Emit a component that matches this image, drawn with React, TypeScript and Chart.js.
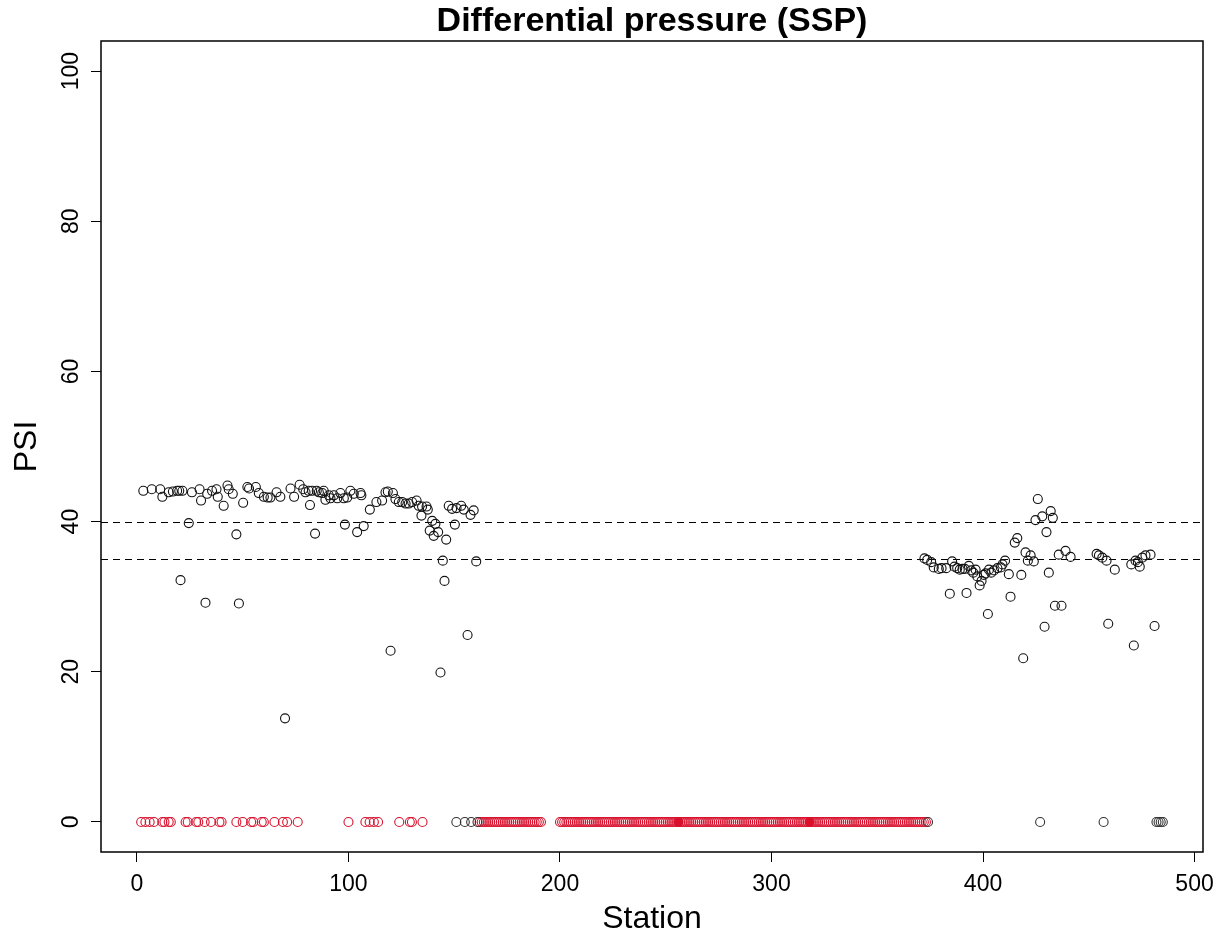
import { useEffect, useRef } from "react";
import { Chart, registerables } from "chart.js";

Chart.register(...registerables);

const chartTitle = "Differential pressure (SSP)";
const xAxisLabel = "Station";
const yAxisLabel = "PSI";
const xTickValues = [0, 100, 200, 300, 400, 500];
const yTickValues = [0, 20, 40, 60, 80, 100];
const thresholdLines = [40, 35];

// Stations with a non-zero differential pressure (black circles)
const pressureStations = [
  3, 7, 11, 12, 15, 17, 19, 20, 20.6, 21.5, 24.5, 26, 29.6, 30.3, 32.4, 33.2, 35.5, 37.6, 38.2, 41,
  42.8, 43.4, 45.3, 47, 48.2, 50.2, 52.2, 53, 56.2, 57.6, 60, 61.8, 63.1, 66, 67.8, 70,
  72.6, 74.3, 76.9, 78.6, 79.7, 81.2, 81.8, 82.8, 84.2, 85, 86, 87.6, 88.3, 89.1, 90.7, 91.5,
  93.1, 94.7, 96.2, 97.8, 98.3, 99.4, 100.9, 102.5, 104.1, 105.7, 106.1, 107.2, 110.1, 113.2,
  115.9, 117.5, 118.6, 119.9, 121, 122.2, 123.8, 125.4, 127, 128.5, 130.1, 132.2, 133.2, 134.5,
  134.8, 136.9, 137.5, 138.4, 139.6, 140.3, 141.1, 142.4, 143.5, 144.6, 145.4, 146.2, 147.4, 149,
  150.3, 151.1, 153.3, 154.5, 156.3, 157.7, 159.2, 160.4,
  372.3, 373.6, 375.5, 376.7, 379.1, 380.4, 382.6, 384.3, 385.4, 386.5, 387.8, 389, 390.3, 391.4,
  392.2, 393.3, 394.4, 395.4, 396.5, 397.3, 398.4, 399.3, 400.4, 401.2, 402.3, 402.8, 403.9,
  405.2, 406.8, 408.4, 409.2, 410.4, 412.2, 413, 415, 416.2, 418.1, 419, 420.1, 421.2, 422.5,
  424, 424.8, 425.9, 428, 429.1, 430, 431.1, 432, 433, 434, 435.8, 437.1, 439, 441.4, 453.7,
  454.8, 456.4, 458.4, 459.2, 462.3, 470.1, 471.3, 472.1, 473.2, 474.1, 475.3, 476.8, 479.2, 481.1,
];
const pressureValues = [
  44.1, 44.3, 44.3, 43.3, 43.9, 44.0, 44.1, 44.1, 32.2, 44.1, 39.8, 43.9, 44.3, 42.8, 29.2, 43.7, 44.1, 44.3, 43.3, 42.1,
  44.8, 44.3, 43.7, 38.3, 29.1, 42.5, 44.6, 44.4, 44.6, 43.8, 43.3, 43.2, 43.2, 43.9, 43.3, 13.8,
  44.4, 43.3, 44.9, 44.3, 43.9, 44.1, 42.2, 44.1, 38.4, 44.1, 43.9, 43.8, 44.1, 42.9, 43.5, 43.1,
  43.5, 43.1, 43.8, 43.1, 39.6, 43.2, 44.1, 43.7, 38.6, 43.8, 43.5, 39.4, 41.6, 42.6,
  42.8, 43.9, 44.0, 22.8, 43.8, 43.0, 42.6, 42.6, 42.4, 42.4, 42.6, 42.8, 42.1, 40.8,
  42.0, 42.0, 41.6, 38.8, 40.1, 38.1, 39.7, 38.6, 19.9, 34.8, 32.1, 37.6, 42.1, 41.7,
  39.6, 41.8, 42.1, 41.6, 24.9, 40.9, 41.5, 34.7,
  35.1, 34.9, 34.6, 33.9, 33.7, 33.8, 33.8, 30.4, 34.7, 34.0, 33.8, 33.6, 33.7, 33.7,
  30.5, 34.1, 33.5, 33.2, 33.6, 32.7, 31.5, 32.1, 32.9, 33.1, 27.7, 33.6, 33.2,
  33.5, 33.8, 33.9, 34.3, 34.8, 33.0, 30.0, 37.2, 37.8, 32.9, 21.8, 35.9, 34.8, 35.5,
  34.7, 40.2, 43.0, 40.7, 26.0, 38.6, 33.2, 41.4, 40.5, 28.8, 35.6, 28.8, 36.1, 35.3, 35.7,
  35.5, 35.2, 34.8, 26.4, 33.6, 34.3, 23.5, 34.8, 34.6, 34.0, 35.2, 35.5, 35.6, 26.1,
];

// Stations reading zero, highlighted in red
const redZeroStations = [
  2, 4, 6, 8, 12, 13, 15, 16, 23, 24, 28, 29, 32, 35, 39, 40, 47, 50, 54, 55, 59, 60, 65, 69, 71, 76,
  100, 108, 110, 112, 114, 124, 129, 130, 135,
  162, 163, 164, 165, 166, 167, 168, 169, 170, 171, 172, 173, 174, 175, 176, 177, 178, 179, 180, 181,
  182, 183, 184, 185, 186, 187, 188, 189, 190, 191,
  200, 201, 202, 203, 204, 205, 206, 207, 208, 209, 210, 211, 212, 213, 214, 215, 216, 217, 218, 219,
  220, 221, 222, 223, 224, 225, 226, 227, 228, 229, 230, 231, 232, 233, 234, 235, 236, 237, 238, 239,
  240, 241, 242, 243, 244, 245, 246, 247, 248, 249, 250, 251, 252, 253, 254, 255, 256, 257, 258, 259,
  260, 261, 262, 263, 264, 265, 266, 267, 268, 269, 270, 271, 272, 273, 274, 275, 276, 277, 278, 279,
  280, 281, 282, 283, 284, 285, 286, 287, 288, 289, 290, 291, 292, 293, 294, 295, 296, 297, 298, 299,
  300, 301, 302, 303, 304, 305, 306, 307, 308, 309, 310, 311, 312, 313, 314, 315, 316, 317, 318, 319,
  320, 321, 322, 323, 324, 325, 326, 327, 328, 329, 330, 331, 332, 333, 334, 335, 336, 337, 338, 339,
  340, 341, 342, 343, 344, 345, 346, 347, 348, 349, 350, 351, 352, 353, 354, 355, 356, 357, 358, 359,
  360, 361, 362, 363, 364, 365, 366, 367, 368, 369, 370, 371, 372, 373,
];
// Stations reading zero, drawn in black
const blackZeroStations = [151, 155, 158, 161, 374, 427, 457, 482, 483, 484, 485];
// Filled red markers
const filledRedStations = [256, 318];

const FONT = "'Liberation Sans', Arial, Helvetica, sans-serif";

const rPlotPlugin = {
  id: "rPlotDecor",
  beforeDatasetsDraw(chart: any) {
    const { ctx, chartArea, scales } = chart;
    const y = scales.y;
    ctx.save();
    ctx.strokeStyle = "#000";
    ctx.lineWidth = 1.2;
    ctx.setLineDash([7, 5]);
    for (const v of thresholdLines) {
      const py = Math.round(y.getPixelForValue(v)) + 0.5;
      ctx.beginPath();
      ctx.moveTo(chartArea.left, py);
      ctx.lineTo(chartArea.right, py);
      ctx.stroke();
    }
    ctx.restore();
  },
  afterDraw(chart: any) {
    const { ctx, chartArea, scales } = chart;
    const y = scales.y;
    ctx.save();
    // box
    ctx.strokeStyle = "#000";
    ctx.lineWidth = 1.5;
    ctx.strokeRect(chartArea.left, chartArea.top, chartArea.right - chartArea.left, chartArea.bottom - chartArea.top);
    // y tick labels, rotated as in R
    ctx.fillStyle = "#000";
    ctx.font = `23px ${FONT}`;
    ctx.textAlign = "center";
    ctx.textBaseline = "middle";
    for (const t of y.ticks) {
      const py = y.getPixelForValue(t.value);
      ctx.save();
      ctx.translate(chartArea.left - 29, py);
      ctx.rotate(-Math.PI / 2);
      ctx.fillText(String(t.value), 0, 0);
      ctx.restore();
    }
    // title
    const cx = (chartArea.left + chartArea.right) / 2;
    ctx.font = `bold 34px ${FONT}`;
    ctx.textBaseline = "middle";
    ctx.fillText(chartTitle, cx, 22);
    // axis titles
    ctx.font = `32px ${FONT}`;
    ctx.fillText(xAxisLabel, cx, 919);
    ctx.save();
    ctx.translate(27, (chartArea.top + chartArea.bottom) / 2);
    ctx.rotate(-Math.PI / 2);
    ctx.fillText(yAxisLabel, 0, 0);
    ctx.restore();
    ctx.restore();
  },
};

export default function App() {
  const ref = useRef<HTMLCanvasElement | null>(null);
  useEffect(() => {
    if (!ref.current) return;
    const toPts = (xs: number[], ys?: number[]) => xs.map((x, i) => ({ x, y: ys ? ys[i] : 0 }));
    const chart = new Chart(ref.current, {
      type: "scatter",
      data: {
        datasets: [
          {
            label: "pressure",
            data: toPts(pressureStations, pressureValues),
            borderColor: "#111",
            backgroundColor: "rgba(0,0,0,0)",
            borderWidth: 1.1,
            pointRadius: 4.5,
          },
          {
            label: "zero (black)",
            data: toPts(blackZeroStations),
            borderColor: "#333",
            backgroundColor: "rgba(0,0,0,0)",
            borderWidth: 1.1,
            pointRadius: 4.5,
          },
          {
            label: "zero (red)",
            data: toPts(redZeroStations),
            borderColor: "#d8122e",
            backgroundColor: "rgba(0,0,0,0)",
            borderWidth: 1.1,
            pointRadius: 4.5,
          },
          {
            label: "filled",
            data: toPts(filledRedStations),
            borderColor: "#e0102a",
            backgroundColor: "#e0102a",
            borderWidth: 1,
            pointRadius: 4.5,
          },
        ],
      },
      options: {
        animation: false,
        responsive: false,
        events: [],
        layout: { padding: { top: 41, right: 20, bottom: 0, left: 0 } },
        plugins: { legend: { display: false }, tooltip: { enabled: false }, title: { display: false } },
        scales: {
          x: {
            type: "linear",
            min: -17,
            max: 504,
            afterBuildTicks: (s: any) => {
              s.ticks = xTickValues.map((v) => ({ value: v }));
            },
            afterFit: (s: any) => {
              s.height = 87;
            },
            ticks: { color: "#000", font: { family: FONT, size: 23 }, padding: 9, maxRotation: 0 },
            grid: { drawOnChartArea: false, drawTicks: true, tickLength: 10, color: "#000", lineWidth: 1 },
            border: { display: false },
          },
          y: {
            type: "linear",
            min: -4,
            max: 104,
            afterBuildTicks: (s: any) => {
              s.ticks = yTickValues.map((v) => ({ value: v }));
            },
            afterFit: (s: any) => {
              s.width = 101;
            },
            ticks: { display: false },
            grid: { drawOnChartArea: false, drawTicks: true, tickLength: 10, color: "#000", lineWidth: 1 },
            border: { display: false },
          },
        },
      },
      plugins: [rPlotPlugin],
    });
    return () => chart.destroy();
  }, []);
  return (
    <div style={{ position: "fixed", left: 0, top: 0, width: 1223, height: 939, background: "#fff" }}>
      <canvas ref={ref} width={1223} height={939} />
    </div>
  );
}
